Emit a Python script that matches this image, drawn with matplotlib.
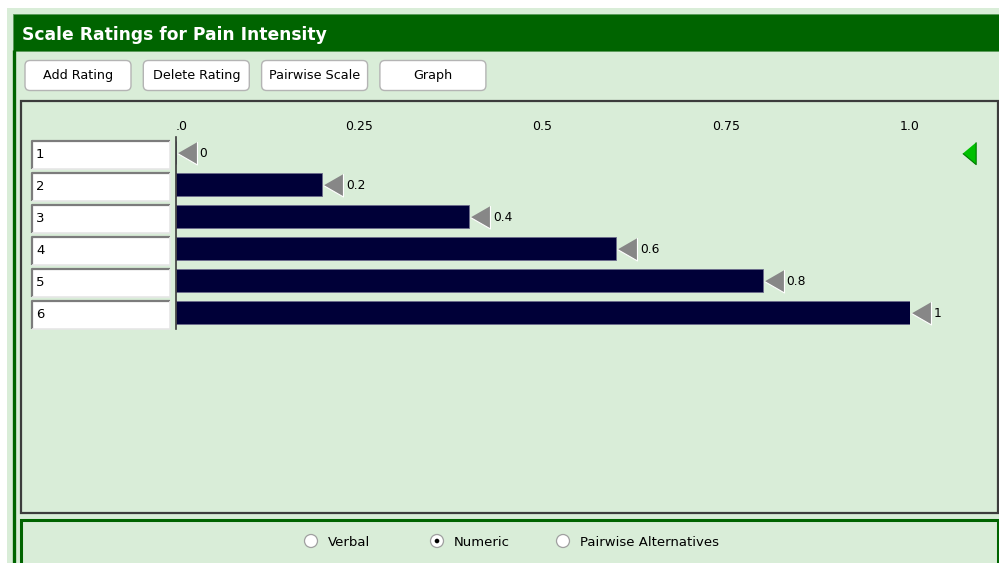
import matplotlib
matplotlib.use("Agg")
import matplotlib.pyplot as plt
import numpy as np
from matplotlib.patches import Rectangle, FancyBboxPatch, Circle
from matplotlib.transforms import blended_transform_factory, offset_copy

# chart data
title = "Scale Ratings for Pain Intensity"
ratings = ["1", "2", "3", "4", "5", "6"]
values = [0.0, 0.2, 0.4, 0.6, 0.8, 1.0]
value_labels = ["0", "0.2", "0.4", "0.6", "0.8", "1"]
tick_values = [0.0, 0.25, 0.5, 0.75, 1.0]
tick_labels = [".0", "0.25", "0.5", "0.75", "1.0"]
buttons = ["Add Rating", "Delete Rating", "Pairwise Scale", "Graph"]
modes = ["Verbal", "Numeric", "Pairwise Alternatives"]
selected_mode = "Numeric"

W, H = 999, 563
LIGHT = "#d9edd8"
DARK_GREEN = "#006400"
BAR = "#000038"
GREY_TRI = "#878787"

plt.rcParams["font.family"] = ["DejaVu Sans"]

fig = plt.figure(figsize=(W / 100, H / 100), dpi=100)
fig.patch.set_facecolor("white")

# background axes in pixel coordinates for the window chrome
bg = fig.add_axes([0, 0, 1, 1])
bg.set_xlim(0, W)
bg.set_ylim(H, 0)
bg.axis("off")

bg.add_patch(Rectangle((7, 8), W - 7, H - 8, fc=LIGHT, ec="none"))
bg.add_patch(Rectangle((13, 13.5), W - 13, 37.5, fc=DARK_GREEN, ec="#5a9a5a", lw=0.6))
bg.text(22, 35, title, color="white", fontsize=12.3, fontweight="bold", va="center", ha="left")
bg.plot([13.5, 13.5], [50, H], color=DARK_GREEN, lw=2.4, solid_capstyle="butt")

# buttons
for i, name in enumerate(buttons):
    x0 = 25 + i * 118.3
    bg.add_patch(FancyBboxPatch((x0, 60.5), 106, 30, boxstyle="round,pad=0,rounding_size=5",
                                fc="white", ec="#b4b4b4", lw=1.0))
    bg.text(x0 + 53, 75.5, name, fontsize=9.2, ha="center", va="center", color="black")

# chart panel and bottom panel
bg.add_patch(Rectangle((20.5, 100.5), W - 21.5, 412.5, fc="none", ec="#3c3c3c", lw=1.6))
bg.add_patch(Rectangle((21, 520), W - 22, 50, fc=LIGHT, ec=DARK_GREEN, lw=2.2))

# radio buttons
for i, name in enumerate(modes):
    cx = 311 + i * 126
    bg.add_patch(Circle((cx, 541), 6.5, fc="white", ec="#a0a0a0", lw=0.9))
    if name == selected_mode:
        bg.add_patch(Circle((cx, 541), 2.3, fc="black", ec="none"))
    bg.text(cx + 17, 542, name, fontsize=9.5, ha="left", va="center", color="black")

# green range marker on the right
bg.plot([969], [152.5], marker=[(-0.6, 0), (0.6, -1), (0.6, 1)], ms=16,
        color="#00c000", mec="#007a00", mew=0.8, ls="none")

# bar chart axes: x=0 at px 175.5, x=1 at px 909.5, rows 32 px apart
left_px, right_px, top_px, bot_px = 175.5, 909.5, 136.5, 328.5
ax = fig.add_axes([left_px / W, 1 - bot_px / H, (right_px - left_px) / W, (bot_px - top_px) / H])
ax.patch.set_visible(False)

rows = np.arange(len(ratings))

# rating name boxes
box_t = blended_transform_factory(bg.transData, ax.transData)
for y in rows:
    top, bot = y - 0.344, y + 0.5
    ax.add_patch(Rectangle((32, top), 138, bot - top, transform=box_t, fc="white",
                           ec="none", clip_on=False, zorder=1))
    ax.plot([32, 32, 170], [bot, top, top], color="#7c7c7c", lw=1.6, transform=box_t,
            clip_on=False, solid_capstyle="butt", zorder=1.5)
    ax.plot([32, 170, 170], [bot, bot, top], color="#e6e6e6", lw=1.2, transform=box_t,
            clip_on=False, solid_capstyle="butt", zorder=1.5)

ax.barh(rows, values, height=0.72, color=BAR, edgecolor="#6c6c8c", lw=0.6, zorder=2)

tri_t = offset_copy(ax.transData, fig=fig, x=11, y=0, units="dots")
ax.plot(values, rows, ls="none", marker=[(-0.87, 0), (0.87, -1), (0.87, 1)], ms=16.5,
        color=GREY_TRI, mec="white", mew=0.8, transform=tri_t, clip_on=False, zorder=3)

lab_t = offset_copy(ax.transData, fig=fig, x=24, y=-1, units="dots")
for v, y, lab in zip(values, rows, value_labels):
    ax.text(v, y, lab, transform=lab_t, fontsize=8.8, ha="left", va="center", color="black")

ax.set_xlim(0, 1)
ax.set_ylim(len(ratings) - 0.5, -0.5)
ax.xaxis.tick_top()
ax.set_xticks(tick_values, tick_labels)
ax.tick_params(axis="x", length=0, pad=2.5, labelsize=9)
ax.get_xticklabels()[0].set_ha("left")
ax.set_yticks(rows, ratings)
ax.tick_params(axis="y", length=0, pad=(left_px - 36) * 0.72, labelsize=9.5)
for t in ax.get_yticklabels():
    t.set_ha("left")
for side in ["top", "right", "bottom"]:
    ax.spines[side].set_visible(False)
ax.spines["left"].set_color("#3a3a3a")
ax.spines["left"].set_linewidth(1.2)

fig.savefig("out.png", dpi=100)
